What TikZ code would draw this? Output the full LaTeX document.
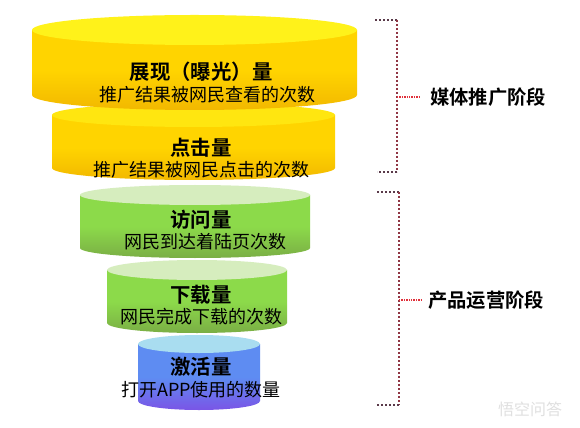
\documentclass[tikz,border=0pt]{standalone}
\usepackage{fontspec}
\newfontfamily\cjk{Noto Sans CJK SC}
\newfontfamily\cjkb{Noto Sans CJK SC Bold}
\usetikzlibrary{calc}
\definecolor{ytop}{HTML}{FFF21A}
\definecolor{ybody}{HTML}{FFD400}
\definecolor{ybot}{HTML}{F2B800}
\definecolor{gtop}{HTML}{D6EDBE}
\definecolor{gbody}{HTML}{8CDA4A}
\definecolor{gbot}{HTML}{7AAE45}
\definecolor{btop}{HTML}{A9DDF0}
\definecolor{bbody}{HTML}{5E8CF2}
\definecolor{bbot}{HTML}{7A55E6}
\definecolor{dotc}{HTML}{5A3A4A}
\definecolor{tickc}{HTML}{E0303A}
\tikzset{
  ttl/.style={font=\cjkb\fontsize{15.3}{16}\selectfont, text=black, inner sep=0pt},
  sub/.style={font=\cjk\fontsize{13.5}{14}\selectfont, text=black, inner sep=0pt},
  stage/.style={font=\cjkb\fontsize{14.5}{16}\selectfont, text=black, inner sep=0pt, anchor=west},
  brk/.style={dotc, line width=1.8pt, dash pattern=on 1.4pt off 1.6pt},
  brkv/.style={color=dotc!60!tickc, line width=1.8pt, dash pattern=on 1.4pt off 1.6pt},
  tick/.style={tickc, line width=1.4pt, dash pattern=on 1pt off 0.8pt}
}
% \mycyl{cx}{a}{t}{r}{b}{top}{body}{bottom}
\newcommand{\mycyl}[8]{%
  \shade[top color=#7, bottom color=#8, middle color=#7]
    (#1-#2,#3) -- (#1-#2,#5) arc[start angle=180, end angle=360, x radius=#2, y radius=-#4] -- (#1+#2,#3) -- cycle;
  \fill[#6] (#1,#3) ellipse[x radius=#2, y radius=#4];
}
\begin{document}
\begin{tikzpicture}[x=0.75pt,y=-0.75pt]
\fill[white] (0,0) rectangle (580,427);
\useasboundingbox (0,0) rectangle (580,427);
% cylinders, bottom first
\mycyl{199}{61}{344}{9}{401}{btop}{bbody}{bbot}
\mycyl{197}{90}{270}{10}{323}{gtop}{gbody}{gbot}
\mycyl{195}{115}{195}{10}{248}{gtop}{gbody}{gbot}
\mycyl{193.5}{141.5}{115}{12}{168}{ytop!60!ybody}{ybody}{ybot}
\mycyl{194.5}{162.5}{30}{15}{95}{ytop}{ybody}{ybot}
% texts
\node[ttl] (t1) at (201,72) {展现（曝光）量};
\node[sub] (s1) at (207,95) {推广结果被网民查看的次数};
\node[ttl] (t2) at (201,148) {点击量};
\node[sub] (s2) at (201,170) {推广结果被网民点击的次数};
\node[ttl] (t3) at (201,220) {访问量};
\node[sub] (s3) at (205,242) {网民到达着陆页次数};
\node[ttl] (t4) at (201,295) {下载量};
\node[sub] (s4) at (201,317) {网民完成下载的次数};
\node[ttl] (t5) at (201,367) {激活量};
\node[sub] (s5) at (201,390) {打开APP使用的数量};
% bracket 1
\coordinate (a1) at (375,20);
\coordinate (a2) at (397,20);
\coordinate (a3) at (397,172);
\coordinate (a4) at (377,172);
\coordinate (am) at (397,97);
\draw[brk] (a1) -- (a2);
\draw[brkv] (a2) -- (a3);
\draw[brk] (a3) -- (a4);
\node[stage] (m1) at (430,97) {媒体推广阶段};
\draw[tick] (am) -- (m1.west -| 420,0);
% bracket 2
\coordinate (b1) at (377,192);
\coordinate (b2) at (399,192);
\coordinate (b3) at (399,405);
\coordinate (b4) at (377,405);
\coordinate (bm) at (399,300);
\draw[brk] (b1) -- (b2);
\draw[brkv] (b2) -- (b3);
\draw[brk] (b3) -- (b4);
\node[stage] (m2) at (428,300) {产品运营阶段};
\draw[tick] (bm) -- (m2.west -| 421,0);
% watermark
\node[font=\cjk\fontsize{12}{13}\selectfont, text=black!12, inner sep=0pt] (wm) at (530,409) {悟空问答};
\end{tikzpicture}
\end{document}
